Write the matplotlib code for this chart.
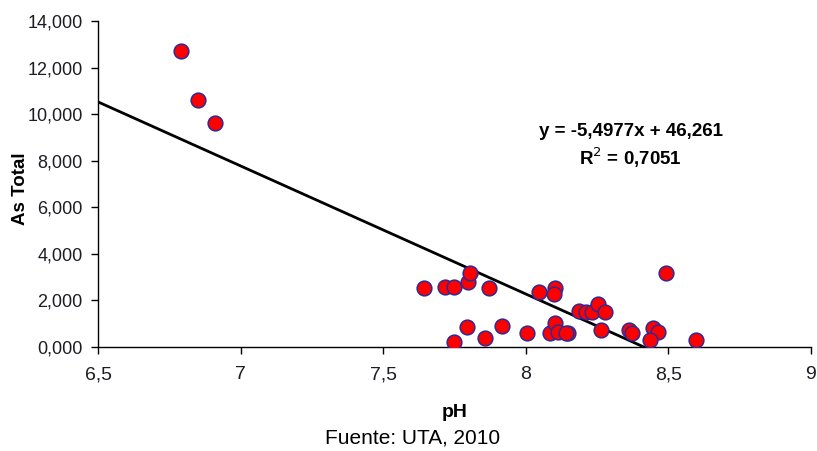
import numpy as np
import matplotlib.pyplot as plt
from matplotlib.ticker import FuncFormatter

plt.rcParams['font.family'] = ['Liberation Sans', 'DejaVu Sans']

# pH vs As total
ph = [6.79, 6.85, 6.91,
      7.645, 7.717, 7.75, 7.797, 7.806, 7.873, 8.048, 8.103, 8.098,
      8.188, 8.211, 8.234, 8.255, 8.279, 8.491,
      7.794, 7.75, 7.859, 7.916, 8.005, 8.086, 8.104, 8.115, 8.15, 8.142,
      8.266, 8.363, 8.374, 8.448, 8.465, 8.436, 8.598]
as_total = [12.71, 10.61, 9.62,
            2.52, 2.56, 2.56, 2.80, 3.16, 2.52, 2.37, 2.55, 2.26,
            1.56, 1.49, 1.49, 1.83, 1.49, 3.16,
            0.85, 0.23, 0.37, 0.91, 0.59, 0.59, 1.02, 0.66, 0.59, 0.60,
            0.73, 0.73, 0.59, 0.80, 0.66, 0.30, 0.30]

slope = -5.4977
intercept = 46.261
r2 = 0.7051

xticks = [6.5, 7, 7.5, 8, 8.5, 9]
yticks = [0, 2, 4, 6, 8, 10, 12, 14]

fig = plt.figure(figsize=(8.17, 4.51), dpi=100)
ax = fig.add_axes([0.12, 0.2306, 0.8723, 0.7228])

# trend line, stops where it reaches 0
x_end = -intercept / slope
xl = np.array([6.5, x_end])
ax.plot(xl, slope * xl + intercept, color='black', lw=2.0, zorder=2)

ax.scatter(ph, as_total, s=112, c='#ff0000', edgecolors='#2e2a96',
           linewidths=1.1, zorder=3)

ax.set_xlim(6.5, 9)
ax.set_ylim(0, 14)
ax.set_xticks(xticks)
ax.set_yticks(yticks)
ax.xaxis.set_major_formatter(FuncFormatter(lambda v, p: ('%g' % v).replace('.', ',')))
ax.yaxis.set_major_formatter(FuncFormatter(lambda v, p: '%d,000' % v))
ax.tick_params(axis='both', direction='out', length=5, width=1, colors='black')
ax.tick_params(axis='y', labelsize=13, pad=6)
ax.tick_params(axis='x', labelsize=14, pad=9)
for lbl in ax.get_yticklabels() + ax.get_xticklabels():
    lbl.set_color('#1c1c24')

for s in ['top', 'right']:
    ax.spines[s].set_visible(False)
for s in ['left', 'bottom']:
    ax.spines[s].set_linewidth(1.0)

fig.text(0.0245, 0.581, 'As Total', rotation=90, ha='center', va='center',
         fontsize=13.5, fontweight='bold')

fig.text(0.772, 0.708, 'y = -5,4977x + 46,261', ha='center', va='center',
         fontsize=13.5, fontweight='bold')
fig.text(0.772, 0.650, 'R$^2$ = 0,7051', ha='center', va='center',
         fontsize=13.5, fontweight='bold')

fig.text(0.557, 0.085, 'pH', ha='center', va='center', fontsize=14,
         fontweight='bold')
fig.text(0.505, 0.029, 'Fuente: UTA, 2010', ha='center', va='center',
         fontsize=15)

fig.savefig('out.png', dpi=100)
